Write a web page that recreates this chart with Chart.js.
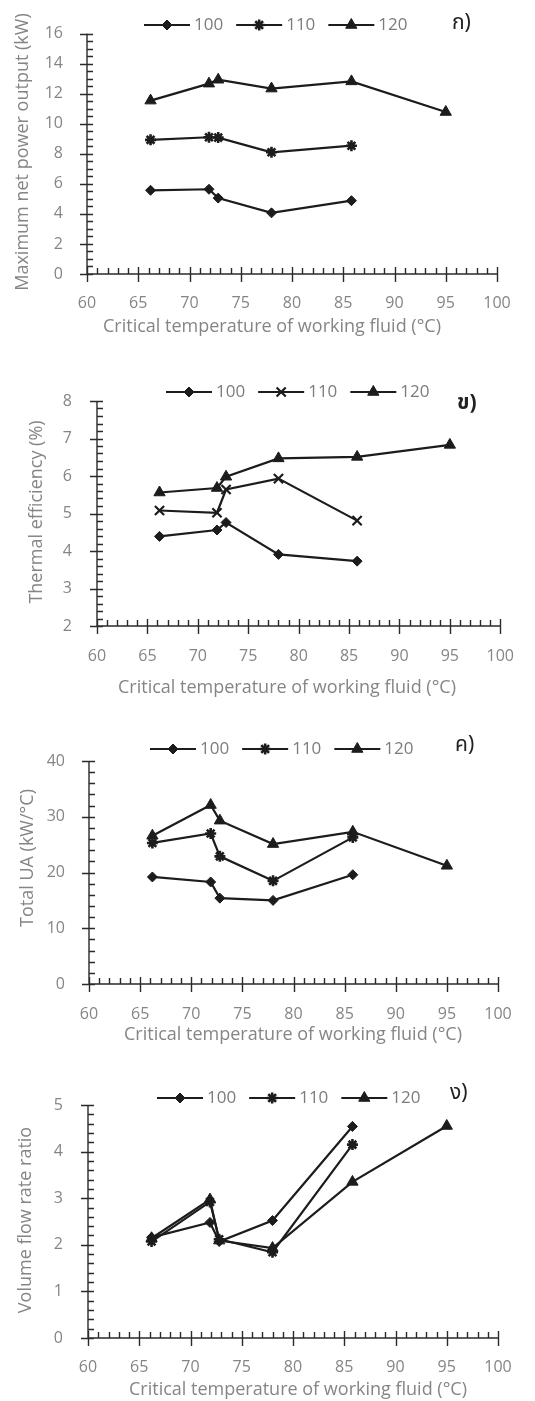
<!DOCTYPE html>
<html>
<head>
<meta charset="utf-8">
<script src="https://cdn.jsdelivr.net/npm/chart.js@4.4.1/dist/chart.umd.min.js"></script>
<style>
  html, body { margin: 0; padding: 0; background: #ffffff; }
  #page { position: relative; width: 535px; height: 1401px; overflow: hidden; background: #ffffff; }
  #page canvas { position: absolute; left: 0; }
</style>
</head>
<body>
<div id="page">
  <canvas id="chartPower" width="535" height="340" style="top:0px"></canvas>
  <canvas id="chartEfficiency" width="535" height="360" style="top:340px"></canvas>
  <canvas id="chartUA" width="535" height="345" style="top:700px"></canvas>
  <canvas id="chartFlow" width="535" height="356" style="top:1045px"></canvas>
</div>
<script>
// Critical temperature of each working fluid (°C)
const criticalTemps = [66.2, 71.9, 72.8, 78.0, 85.8, 95.0];

// Heat-source temperature series
const seriesLabels = ['100', '110', '120'];

// Maximum net power output (kW)
const power100 = [5.57, 5.64, 5.05, 4.07, 4.88];
const power110 = [8.93, 9.10, 9.08, 8.10, 8.54];
const power120 = [11.54, 12.67, 12.93, 12.34, 12.82, 10.78];

// Thermal efficiency (%)
const eff100 = [4.39, 4.56, 4.76, 3.91, 3.73];
const eff110 = [5.08, 5.02, 5.64, 5.93, 4.81];
const eff120 = [5.56, 5.68, 5.98, 6.47, 6.51, 6.83];

// Total UA (kW/°C)
const ua100 = [19.2, 18.3, 15.4, 15.0, 19.6];
const ua110 = [25.3, 27.0, 22.9, 18.5, 26.3];
const ua120 = [26.6, 32.1, 29.3, 25.1, 27.3, 21.2];

// Volume flow rate ratio
const flow100 = [2.16, 2.48, 2.07, 2.52, 4.54];
const flow110 = [2.07, 2.92, 2.12, 1.84, 4.15];
const flow120 = [2.14, 2.97, 2.09, 1.93, 3.35, 4.55];

// Tick labels
const xTicks = [60, 65, 70, 75, 80, 85, 90, 95, 100];
const powerTicks = [0, 2, 4, 6, 8, 10, 12, 14, 16];
const effTicks = [2, 3, 4, 5, 6, 7, 8];
const uaTicks = [0, 10, 20, 30, 40];
const flowTicks = [0, 1, 2, 3, 4, 5];

// Axis titles and panel letters
const xTitle = 'Critical temperature of working fluid (°C)';
const yTitles = ['Maximum net power output (kW)', 'Thermal efficiency (%)', 'Total UA (kW/°C)', 'Volume flow rate ratio'];
const panelLetters = ['ก)', 'ข)', 'ค)', 'ง)'];

const INK = '#1c1c1c';
const GREY = '#858585';
const FONT = '"Open Sans", "Noto Sans", "DejaVu Sans", sans-serif';
const THAI_FONT = '"Noto Sans Thai", "Noto Sans", "DejaVu Sans", sans-serif';

const markerRadius = { rectRot: 5, star: 5.5, crossRot: 6.5, triangle: 6.5 };
const markerBorder = { rectRot: 1, star: 2.6, crossRot: 2.2, triangle: 1 };

function drawMarker(ctx, style, x, y) {
  const opts = {
    pointStyle: style,
    radius: markerRadius[style],
    rotation: 0,
    borderWidth: markerBorder[style]
  };
  ctx.save();
  ctx.fillStyle = INK;
  ctx.strokeStyle = INK;
  ctx.lineWidth = markerBorder[style];
  Chart.helpers.drawPoint(ctx, opts, x, y);
  ctx.restore();
}

// Axis lines with major ticks crossing the axis and minor ticks inside the plot
const axisDecor = {
  id: 'axisDecor',
  afterDatasetsDraw(chart, args, o) {
    const { ctx, chartArea: a } = chart;
    const xs = chart.scales.x, ys = chart.scales.y;
    ctx.save();
    ctx.strokeStyle = '#2a2a2a';
    ctx.lineWidth = 1.4;
    ctx.beginPath();
    ctx.moveTo(a.left, a.top);
    ctx.lineTo(a.left, a.bottom);
    ctx.lineTo(a.right, a.bottom);
    const near = (v, step) => Math.abs(v / step - Math.round(v / step)) < 1e-6;
    const nx = Math.round((xs.max - xs.min) / o.xMinor);
    for (let i = 0; i <= nx; i++) {
      const v = xs.min + i * o.xMinor;
      const px = Math.round(xs.getPixelForValue(v)) + 0.5;
      if (near(v, o.xMajor)) {
        ctx.moveTo(px, a.bottom - 7);
        ctx.lineTo(px, a.bottom + 8);
      } else {
        ctx.moveTo(px, a.bottom - 6);
        ctx.lineTo(px, a.bottom);
      }
    }
    const ny = Math.round((ys.max - ys.min) / o.yMinor);
    for (let i = 0; i <= ny; i++) {
      const v = ys.min + i * o.yMinor;
      const py = Math.round(ys.getPixelForValue(v)) + 0.5;
      if (near(v - ys.min, o.yMajor)) {
        ctx.moveTo(a.left - 7, py);
        ctx.lineTo(a.left + 6, py);
      } else {
        ctx.moveTo(a.left, py);
        ctx.lineTo(a.left + 6, py);
      }
    }
    ctx.stroke();
    ctx.restore();
  }
};

// Axis titles
const axisTitles = {
  id: 'axisTitles',
  afterDraw(chart, args, o) {
    const ctx = chart.ctx;
    ctx.save();
    ctx.fillStyle = GREY;
    ctx.textAlign = 'center';
    ctx.textBaseline = 'middle';
    ctx.font = o.xFont + 'px ' + FONT;
    ctx.fillText(o.xText, o.xX, o.xY);
    ctx.translate(o.yX, o.yY);
    ctx.rotate(-Math.PI / 2);
    ctx.font = o.yFont + 'px ' + FONT;
    ctx.fillText(o.yText, 0, 0);
    ctx.restore();
  }
};

// Series key across the top, plus the panel letter
const seriesKey = {
  id: 'seriesKey',
  afterDraw(chart, args, o) {
    const ctx = chart.ctx;
    ctx.save();
    ctx.font = '17px ' + FONT;
    ctx.textBaseline = 'middle';
    ctx.textAlign = 'left';
    let x = o.x;
    chart.data.datasets.forEach(ds => {
      ctx.strokeStyle = INK;
      ctx.lineWidth = 2.2;
      ctx.beginPath();
      ctx.moveTo(x, o.y);
      ctx.lineTo(x + 46, o.y);
      ctx.stroke();
      drawMarker(ctx, ds.pointStyle, x + 23, o.y);
      ctx.fillStyle = '#7c7c7c';
      ctx.fillText(ds.label, x + 50, o.y);
      x += 50 + ctx.measureText(ds.label).width + 13;
    });
    ctx.fillStyle = '#222222';
    ctx.font = (o.letterBold ? 'bold ' : '') + '21px ' + THAI_FONT;
    ctx.fillText(o.letter, o.letterX, o.letterY);
    ctx.restore();
  }
};

function makePanel(cfg) {
  const canvas = document.getElementById(cfg.id);
  const H = canvas.height;
  const datasets = cfg.series.map((vals, i) => ({
    label: seriesLabels[i],
    data: vals.map((v, j) => ({ x: criticalTemps[j], y: v })),
    borderColor: INK,
    backgroundColor: INK,
    borderWidth: 2.2,
    tension: 0,
    fill: false,
    pointStyle: cfg.markers[i],
    pointRadius: markerRadius[cfg.markers[i]],
    pointHoverRadius: markerRadius[cfg.markers[i]],
    pointBorderWidth: markerBorder[cfg.markers[i]],
    pointBackgroundColor: INK,
    pointBorderColor: INK
  }));
  const tickFont = { family: FONT, size: 16 };
  return new Chart(canvas, {
    type: 'line',
    data: { datasets },
    options: {
      responsive: false,
      animation: false,
      events: [],
      layout: { padding: { left: 0, right: 535 - cfg.area.right, top: cfg.area.top, bottom: 0 } },
      scales: {
        x: {
          type: 'linear',
          min: 60,
          max: 100,
          afterBuildTicks: s => { s.ticks = xTicks.map(v => ({ value: v })); },
          afterFit: s => { s.height = H - cfg.area.bottom; },
          ticks: { font: tickFont, color: GREY, padding: cfg.xPad, maxRotation: 0, autoSkip: false },
          grid: { display: false, drawTicks: false },
          border: { display: false }
        },
        y: {
          type: 'linear',
          min: cfg.yTicks[0],
          max: cfg.yTicks[cfg.yTicks.length - 1],
          afterBuildTicks: s => { s.ticks = cfg.yTicks.map(v => ({ value: v })); },
          afterFit: s => { s.width = cfg.area.left; },
          ticks: { font: tickFont, color: GREY, padding: cfg.yPad, autoSkip: false },
          grid: { display: false, drawTicks: false },
          border: { display: false }
        }
      },
      plugins: {
        legend: { display: false },
        tooltip: { enabled: false },
        axisDecor: { xMinor: 1, xMajor: 5, yMinor: cfg.yMinor, yMajor: cfg.yMajor },
        axisTitles: {
          xText: xTitle, xX: cfg.xTitlePos[0], xY: cfg.xTitlePos[1], xFont: 18,
          yText: cfg.yTitle, yX: cfg.yTitlePos[0], yY: cfg.yTitlePos[1], yFont: 18
        },
        seriesKey: {
          x: cfg.keyPos[0], y: cfg.keyPos[1],
          letter: cfg.letter, letterX: cfg.letterPos[0], letterY: cfg.letterPos[1],
          letterBold: cfg.letterBold
        }
      }
    },
    plugins: [axisDecor, axisTitles, seriesKey]
  });
}

makePanel({
  id: 'chartPower',
  series: [power100, power110, power120],
  markers: ['rectRot', 'star', 'triangle'],
  yTicks: powerTicks, yMinor: 0.5, yMajor: 2,
  area: { left: 87, right: 497, top: 29, bottom: 274 },
  xPad: 20, yPad: 24,
  xTitlePos: [272, 327], yTitle: yTitles[0], yTitlePos: [23, 152],
  keyPos: [144, 25], letter: panelLetters[0], letterPos: [452, 25], letterBold: false
});

makePanel({
  id: 'chartEfficiency',
  series: [eff100, eff110, eff120],
  markers: ['rectRot', 'crossRot', 'triangle'],
  yTicks: effTicks, yMinor: 0.2, yMajor: 1,
  area: { left: 97, right: 501, top: 61, bottom: 286 },
  xPad: 21, yPad: 25,
  xTitlePos: [287, 348], yTitle: yTitles[1], yTitlePos: [37, 172],
  keyPos: [166, 52], letter: panelLetters[1], letterPos: [457, 65], letterBold: true
});

makePanel({
  id: 'chartUA',
  series: [ua100, ua110, ua120],
  markers: ['rectRot', 'star', 'triangle'],
  yTicks: uaTicks, yMinor: 2, yMajor: 10,
  area: { left: 89, right: 498, top: 61, bottom: 284 },
  xPad: 21, yPad: 24,
  xTitlePos: [293, 335], yTitle: yTitles[2], yTitlePos: [28, 158],
  keyPos: [150, 49], letter: panelLetters[2], letterPos: [455, 47], letterBold: false
});

makePanel({
  id: 'chartFlow',
  series: [flow100, flow110, flow120],
  markers: ['rectRot', 'star', 'triangle'],
  yTicks: flowTicks, yMinor: 0.2, yMajor: 1,
  area: { left: 88, right: 498, top: 60, bottom: 293 },
  xPad: 20, yPad: 25,
  xTitlePos: [298, 345], yTitle: yTitles[3], yTitlePos: [26, 175],
  keyPos: [157, 53], letter: panelLetters[3], letterPos: [450, 50], letterBold: false
});
</script>
</body>
</html>
